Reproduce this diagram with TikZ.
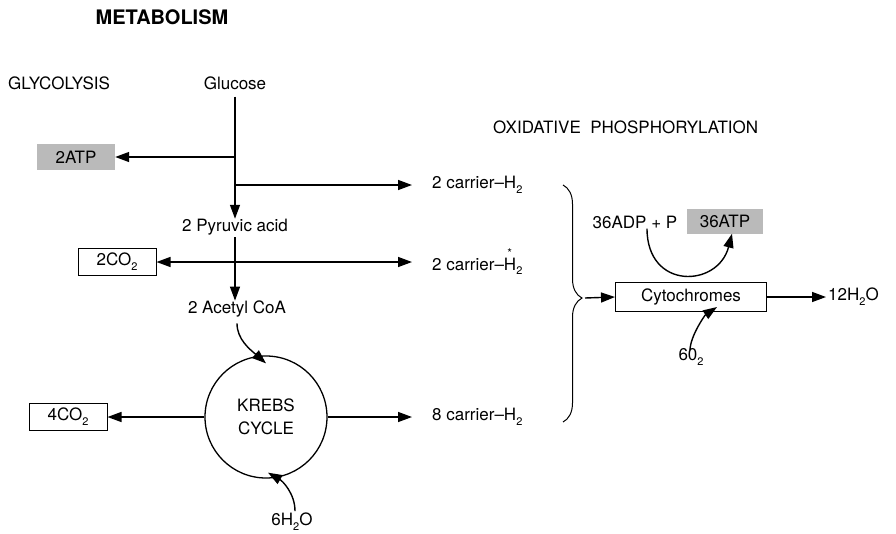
\documentclass[tikz,border=0pt]{standalone}
\usepackage{fontspec}
\setmainfont{TeX Gyre Heros}
\usetikzlibrary{arrows.meta,decorations.pathreplacing}
\newcommand\chs[1]{\raisebox{-0.28em}{\fontsize{11}{11}\selectfont #1}}
\newcommand\starH{\makebox[0pt][l]{\raisebox{0.72em}{\kern0.2em\fontsize{12}{12}\selectfont *}}H}
\begin{document}
\begin{tikzpicture}[x=1pt,y=-1pt,
  every node/.style={font=\fontsize{17}{21}\selectfont, inner sep=2pt},
  boxed/.style={draw, line width=1pt, minimum height=27pt, inner sep=3pt},
  grayed/.style={fill=black!27, minimum height=26pt, inner sep=3pt},
  flow/.style={line width=1.4pt, -{Triangle[length=14pt,width=10pt]}},
  dflow/.style={line width=1.4pt, {Triangle[length=14pt,width=10pt]}-{Triangle[length=14pt,width=10pt]}}]
\useasboundingbox (0,0) rectangle (896,533);
% titles
\node (title) at (162,17) {\fontsize{20}{22}\selectfont\bfseries METABOLISM};
\node[anchor=west] (gly) at (6,83) {GLYCOLYSIS};
\node[anchor=west] (oxp) at (491,127) {OXIDATIVE\ \ PHOSPHORYLATION};
% glycolysis column
\node (glu) at (235,83) {Glucose};
\node (pyr) at (235,227) {2 Pyruvic acid};
\node (acet) at (237,309) {2 Acetyl CoA};
\node[grayed, minimum width=78pt] (atp2) at (76,157) {2ATP};
\node[boxed, minimum width=78pt] (co2) at (117,262) {2CO\chs{2}};
\node[boxed, minimum width=78pt] (co4) at (68,417) {4CO\chs{2}};
\node[circle, draw, line width=1.3pt, minimum size=122pt, align=center,
      font=\fontsize{17}{23}\selectfont] (krebs) at (266,417) {KREBS\\CYCLE};
\node (h2o6) at (292,522) {6H\chs{2}O};
% carriers
\node[anchor=west] (c1) at (430,185) {2 carrier\textendash H\chs{2}};
\node[anchor=west] (c2) at (430,262) {2 carrier\textendash\starH\chs{2}};
\node[anchor=west] (c3) at (430,417) {8 carrier\textendash H\chs{2}};
% junctions
\coordinate (j1) at (235,157);
\coordinate (j2) at (235,185);
% oxidative phosphorylation
\node[boxed, minimum width=151pt, minimum height=29pt] (cyt) at (691,297) {Cytochromes};
\node[anchor=west] (w12) at (826,297) {12H\chs{2}O};
\node (adp) at (635,222) {36ADP\ +\ P};
\node[grayed, minimum width=76pt, minimum height=25pt] (atp36) at (725,221) {36ATP};
\node (o6) at (691,357) {60\chs{2}};
% brace
\coordinate (bt) at (563,185);
\coordinate (bb) at (563,422);
\coordinate (btip) at (582,298);
\draw[line width=1pt, decorate, decoration={brace, amplitude=19pt, aspect=0.477}] (bt) -- (bb);
% connectors
\draw[flow] (glu.south) ++(0,5) -- ([yshift=-2pt]pyr.north);
\draw[flow] (j1) -- (atp2.east);
\draw[flow] (j2) -- ([xshift=-18pt]c1.west);
\draw[flow] (pyr.south) -- ([yshift=-2pt]pyr.south |- acet.north);
\draw[dflow] (co2.east) -- ([xshift=-18pt]c2.west);
\draw[flow, shorten <=4pt] (acet.south) .. controls +(0,20) and +(-16,-14) .. ([yshift=-8pt]krebs.north);
\draw[flow] (krebs.west) -- (co4.east);
\draw[flow] (krebs.east) -- ([xshift=-18pt]c3.west);
\draw[flow] (h2o6.north) ++(3,0) .. controls +(0,-18) and +(14,8) .. ([xshift=2pt,yshift=6pt]krebs.south);
\draw[flow] ([xshift=3pt]btip) -- (cyt.west);
\draw[flow] (cyt.east) -- (w12.west);
\draw[flow] ([xshift=12pt,yshift=2pt]adp.south) .. controls +(0,62) and +(-14,54) .. ([xshift=7pt]atp36.south);
\draw[flow] ([xshift=-1pt,yshift=-4pt]o6.north) .. controls +(0,-14) and +(-12,8) .. ([xshift=26pt,yshift=5pt]cyt.south);
\end{tikzpicture}
\end{document}
